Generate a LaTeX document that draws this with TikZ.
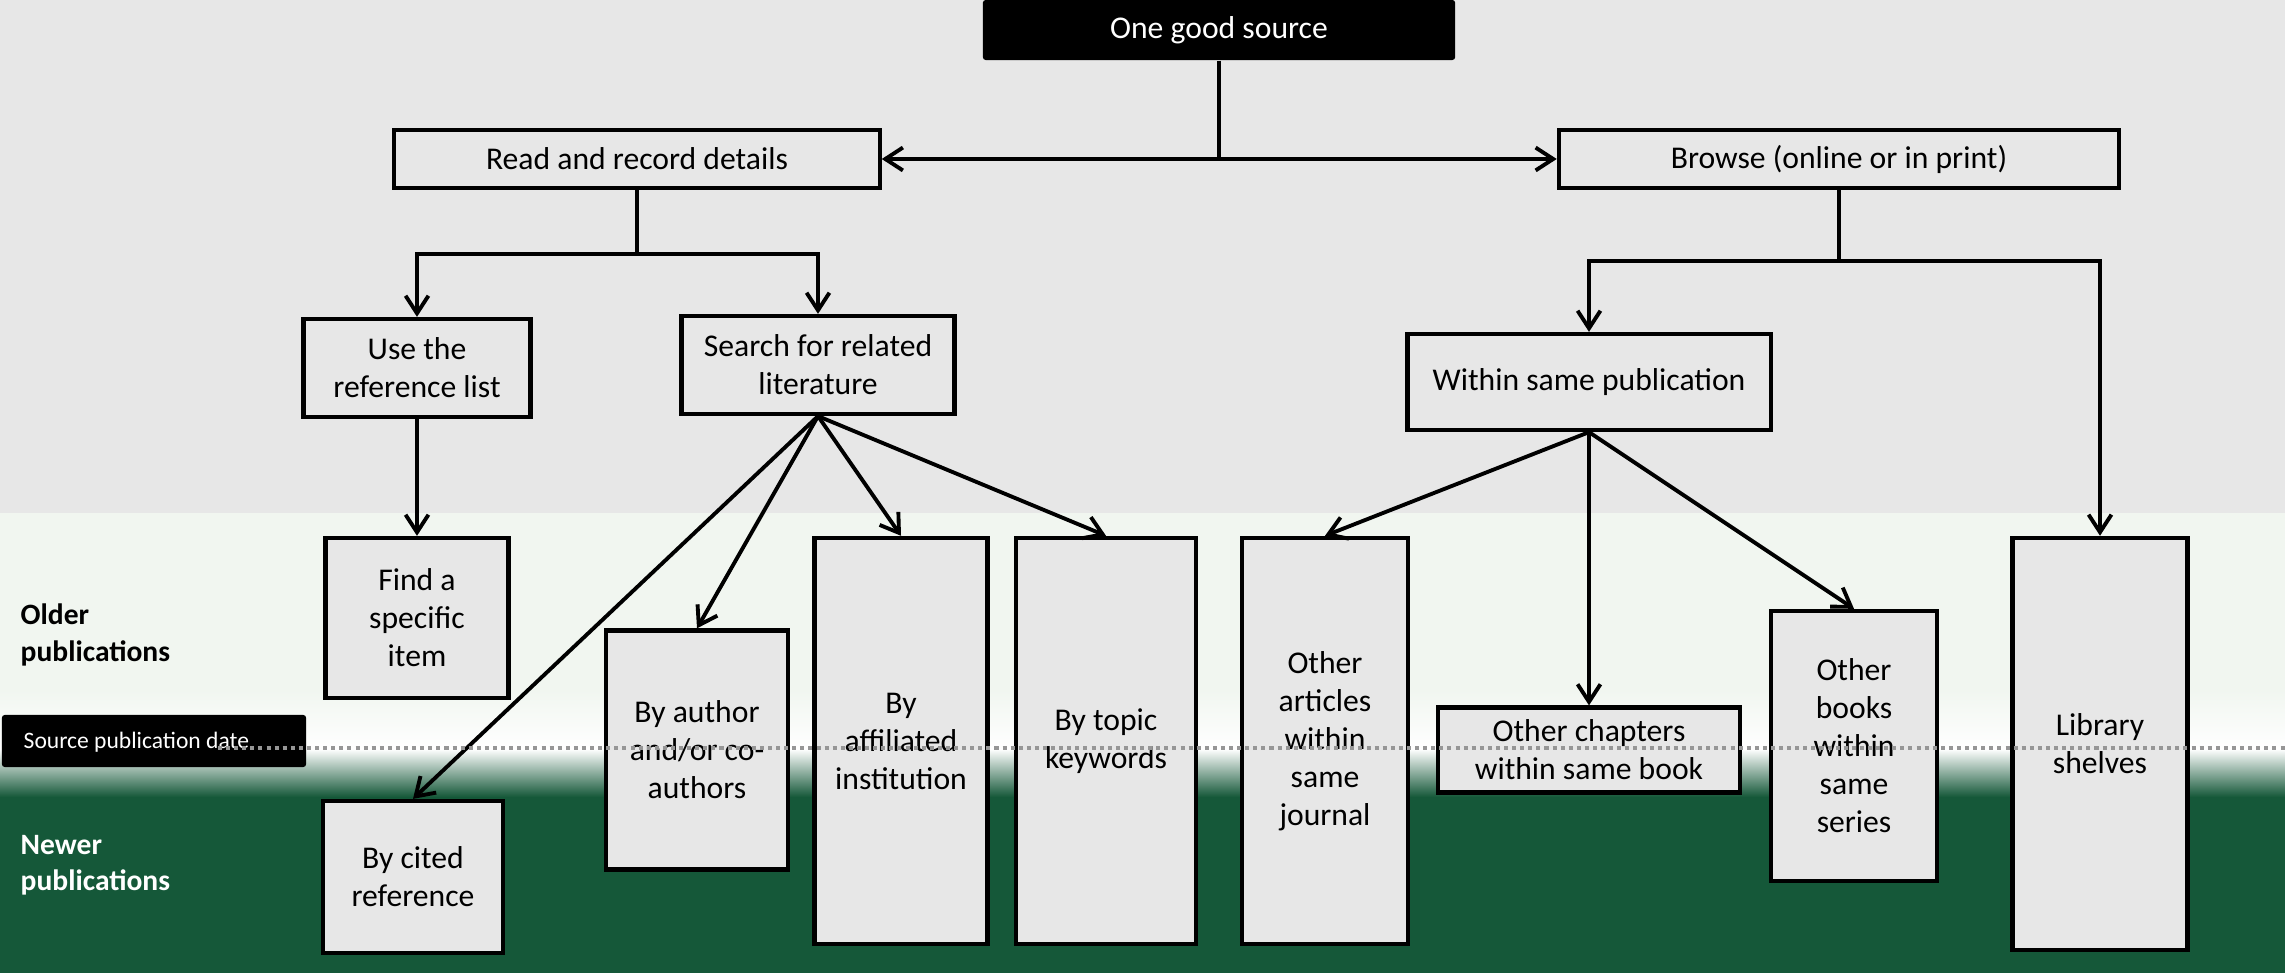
\documentclass[tikz,border=0pt]{standalone}
\usepackage{fontspec}
\setmainfont{Carlito}
\usetikzlibrary{arrows.meta}
\definecolor{bggray}{RGB}{231,231,231}
\definecolor{bgpale}{RGB}{241,246,240}
\definecolor{dkgreen}{RGB}{21,88,57}
\definecolor{boxgray}{RGB}{231,231,231}
\definecolor{dotgray}{RGB}{150,150,150}
\begin{document}
\begin{tikzpicture}[x=0.01cm,y=-0.01cm,
  box/.style={draw=black, line width=1.2pt, fill=boxgray, align=center, inner sep=1pt,
    font=\fontsize{9}{10.8}\selectfont},
  blackbox/.style={fill=black, text=white, rounded corners=0.8pt, inner sep=1pt},
  conn/.style={line width=1.1pt, black},
  arr/.style={conn, -{Straight Barb[length=5pt,width=6.5pt]}},
  sidelbl/.style={font=\bfseries\fontsize{8.4}{10.3}\selectfont, align=left, anchor=west, inner sep=0pt}]
\useasboundingbox (0,0) rectangle (2285,973);
% background bands
\fill[bggray] (0,0) rectangle (2285,513);
\fill[bgpale] (0,513) rectangle (2285,690);
\shade[top color=bgpale, bottom color=white] (0,690) rectangle (2285,749);
\shade[top color=white, bottom color=dkgreen] (0,749) rectangle (2285,797);
\fill[dkgreen] (0,797) rectangle (2285,973);

% side labels
\node[sidelbl] (older) at (20,635) {Older\\publications};
\node[sidelbl, text=white] (newer) at (20,865) {Newer\\publications};
\node[blackbox, minimum width=3.04cm, minimum height=0.52cm] (spd) at (154,741) {};
\node[anchor=west, text=white, inner sep=0pt, font=\fontsize{6.7}{8}\selectfont] (spdtxt) at (23,742) {Source publication date};

% nodes
\node[blackbox, minimum width=4.72cm, minimum height=0.60cm, font=\fontsize{9}{10.8}\selectfont] (ogs) at (1219,30) {One good source};
\node[box, minimum width=4.85cm, minimum height=0.58cm] (read) at (637,159) {Read and record details};
\node[box, minimum width=5.60cm, minimum height=0.58cm] (browse) at (1839,159) {Browse (online or in print)};
\node[box, minimum width=2.27cm, minimum height=0.98cm] (useref) at (417,368) {Use the\\reference list};
\node[box, minimum width=2.73cm, minimum height=0.98cm] (search) at (818,365) {Search for related\\literature};
\node[box, minimum width=1.83cm, minimum height=1.60cm] (find) at (417,618) {Find a\\specific\\item};
\node[box, minimum width=1.80cm, minimum height=1.52cm] (cited) at (413,877) {By cited\\reference};
\node[box, minimum width=1.82cm, minimum height=2.39cm] (author) at (697,750) {By author\\and/or co-\\authors};
\node[box, minimum width=1.73cm, minimum height=4.06cm] (affil) at (901,741) {By\\affiliated\\institution};
\node[box, minimum width=1.80cm, minimum height=4.06cm] (topic) at (1106,741) {By topic\\keywords};
\node[box, minimum width=3.63cm, minimum height=0.96cm] (within) at (1589,382) {Within same publication};
\node[box, minimum width=1.66cm, minimum height=4.06cm] (articles) at (1325,741) {Other\\articles\\within\\same\\journal};
\node[box, minimum width=3.02cm, minimum height=0.85cm] (chapters) at (1589,750) {Other chapters\\within same book};
\node[box, minimum width=1.66cm, minimum height=2.70cm] (books) at (1854,746) {Other\\books\\within\\same\\series};
\node[box, minimum width=1.75cm, minimum height=4.12cm] (library) at (2100,744) {Library\\shelves};

% connectors
\coordinate (j0) at (1219,159);
\draw[conn] (ogs.south) -- (j0);
\draw[arr] (j0) -- (read.east);
\draw[arr] (j0) -- (browse.west);

\coordinate (rj) at (637,254);
\draw[conn] (read.south) -- (rj);
\draw[arr] (rj) -| (useref.north);
\draw[arr] (rj) -| (search.north);

\coordinate (bj) at (1839,261);
\draw[conn] (browse.south) -- (bj);
\draw[arr] (bj) -| (within.north);
\draw[arr] (bj) -| (library.north);

\draw[arr] (useref.south) -- (find.north);

\draw[arr] (search.south) -- (cited.north);
\draw[arr] (search.south) -- (author.north);
\draw[arr] (search.south) -- (affil.north);
\draw[arr] (search.south) -- (topic.north);

\draw[arr] (within.south) -- (articles.north);
\draw[arr] (within.south) -- (chapters.north);
\draw[arr] (within.south) -- (books.north);

% source publication date dotted line
\coordinate (dl) at (218,748);
\coordinate (dr) at (2285,748);
\draw[dotgray, line width=1.1pt, dash pattern=on 1.15pt off 1.15pt] (dl) -- (dr);
\end{tikzpicture}
\end{document}
